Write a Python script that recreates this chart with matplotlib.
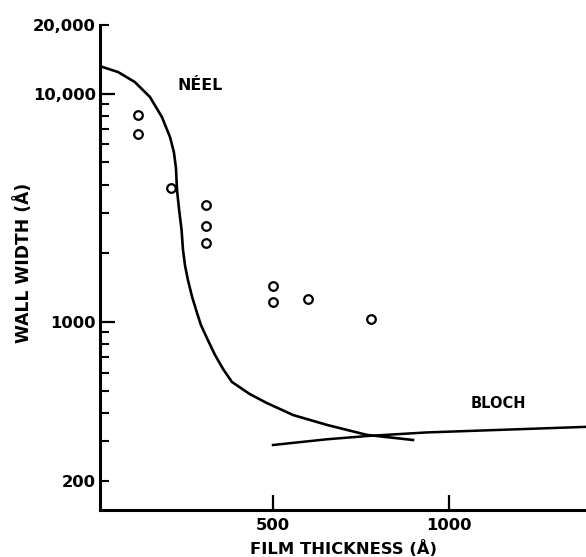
import matplotlib
matplotlib.use("Agg")
import matplotlib.pyplot as plt

# Néel curve (film thickness Å, wall width Å)
neel_x = [8, 59, 107, 150, 184, 207, 218, 224, 227, 233, 240, 244, 250, 258, 270,
          284, 295, 312, 335, 358, 383, 434, 483, 557, 653, 767, 898]
neel_y = [13200, 12450, 11250, 9675, 7905, 6462, 5555, 4726, 3786, 3094, 2528, 2067,
          1759, 1527, 1286, 1094, 970, 850, 717, 622, 546, 483, 441, 391, 354, 320, 304]

# Bloch curve
bloch_x = [500, 652, 775, 936, 1390]
bloch_y = [289, 306, 317, 328, 347]

# Measured points
pts_x = [115, 115, 210, 310, 310, 310, 500, 500, 600, 780]
pts_y = [8070, 6660, 3870, 3250, 2640, 2220, 1436, 1226, 1264, 1030]

x_ticks = [500, 1000]
x_tick_labels = ["500", "1000"]
y_major = [1000, 10000]
y_major_labels = ["1000", "10,000"]
y_minor = [200, 300, 400, 500, 600, 700, 800, 900,
           2000, 3000, 4000, 5000, 6000, 7000, 8000, 9000, 20000]
y_minor_labels = ["200", "", "", "", "", "", "", "",
                  "", "", "", "", "", "", "", "", "20,000"]

plt.rcParams['font.family'] = ['DejaVu Sans']
plt.rcParams['font.weight'] = 'bold'

fig = plt.figure(figsize=(5.86, 5.57), dpi=100)
W, H = 586, 557
ax = fig.add_axes([100 / W, (H - 510) / H, (586 - 100) / W, (510 - 25) / H])

ax.plot(neel_x, neel_y, color='black', lw=1.9, solid_joinstyle='round')
ax.plot(bloch_x, bloch_y, color='black', lw=1.8, clip_on=False)
ax.plot(pts_x, pts_y, linestyle='none', marker='o', markersize=6.2,
        markerfacecolor='white', markeredgecolor='black', markeredgewidth=1.6)

ax.set_yscale('log')
ax.set_xlim(8, 1390)
ax.set_ylim(150, 20000)

ax.set_xticks(x_ticks, labels=x_tick_labels)
ax.set_yticks(y_major, labels=y_major_labels)
ax.set_yticks(y_minor, labels=y_minor_labels, minor=True)
ax.xaxis.set_minor_locator(matplotlib.ticker.NullLocator())

ax.tick_params(axis='both', which='major', direction='in', length=11, width=1.6,
               labelsize=11.8, pad=3)
ax.tick_params(axis='y', which='minor', direction='in', length=6.5, width=1.5,
               labelsize=11.8, pad=3)
ax.tick_params(axis='x', which='major', pad=6)
for lab in ax.get_xticklabels() + ax.get_yticklabels() + ax.get_yticklabels(minor=True):
    lab.set_fontweight('bold')

for s in ['top', 'right']:
    ax.spines[s].set_visible(False)
for s in ['left', 'bottom']:
    ax.spines[s].set_linewidth(2.2)

ax.set_xlabel("FILM THICKNESS (Å)", fontsize=11.8, fontweight='bold', labelpad=5)
ax.set_ylabel("WALL WIDTH (Å)", fontsize=12.3, fontweight='bold')
ax.yaxis.set_label_coords(-67 / 486, 0.51)

ax.text(292, 10900, "NÉEL", fontsize=11.3, fontweight='bold', ha='center', va='center')
ax.text(1141, 441, "BLOCH", fontsize=10.5, fontweight='bold', ha='center', va='center')

fig.savefig("out.png", dpi=100)
